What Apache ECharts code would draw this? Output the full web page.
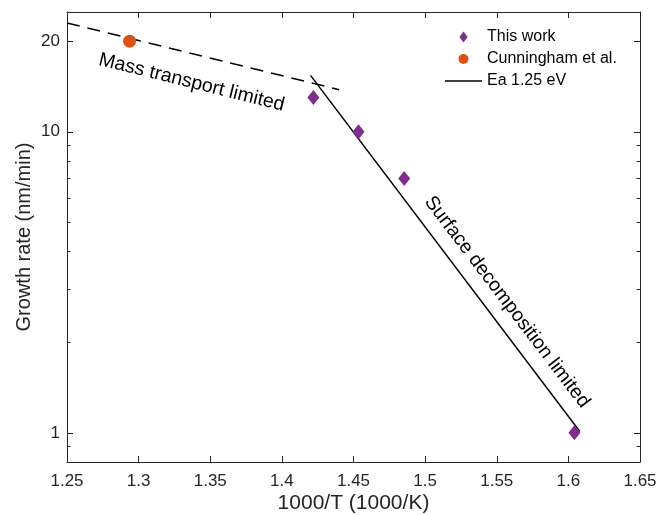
<!DOCTYPE html>
<html>
<head>
<meta charset="utf-8">
<script src="https://cdn.jsdelivr.net/npm/echarts@6/dist/echarts.min.js"></script>
<style>
  html, body { margin: 0; padding: 0; background: #fff; }
  #chart { width: 668px; height: 515px; }
</style>
</head>
<body>
<div id="chart"></div>
<script>
// data
const thisWork = [[1.422, 13.0], [1.4535, 10.0], [1.4854, 7.0], [1.6042, 1.0]];
const cunningham = [[1.2937, 20.0]];
const eaLine = [[1.42, 15.4], [1.608, 1.01]];      // Ea 1.25 eV fit
const massLine = [[1.25, 23.0], [1.44, 13.8]];     // dashed, mass transport
const yMajorTicks = [1, 10, 20];
const yMinorTicks = [0.9, 2, 3, 4, 5, 6, 7, 8, 9];

const font = "'Liberation Sans', Arial, Helvetica, sans-serif";
const axisColor = "#262626";

// legend icons, padded to the full 37px width so they keep their shape
const iconDiamond = "path://M0,6L0,6M37,6L37,6M18.5,0L23,6L18.5,12L14,6Z";
const iconCircle = "path://M0,6L0,6M37,6L37,6M23.5,6A5,5,0,1,1,13.5,6A5,5,0,1,1,23.5,6Z";
const iconLine = "path://M0,0L37,0L37,1.5L0,1.5Z";

const chart = echarts.init(document.getElementById("chart"), null, { renderer: "canvas" });

function yAxisDef(pos, ticks, len, labels, showLine) {
  return {
    type: "log",
    logBase: 10,
    position: pos,
    min: 0.8,
    max: 25,
    axisLine: { show: showLine, lineStyle: { color: axisColor, width: 1 } },
    axisTick: { show: true, inside: true, length: len, customValues: ticks, lineStyle: { color: axisColor } },
    axisLabel: labels
      ? { show: true, customValues: ticks, color: axisColor, fontSize: 17, fontFamily: font, margin: 7 }
      : { show: false },
    splitLine: { show: false },
    minorTick: { show: false },
  };
}

const yLeft = yAxisDef("left", yMajorTicks, 6, true, true);
yLeft.name = "Growth rate (nm/min)";
yLeft.nameLocation = "middle";
yLeft.nameGap = 33;
yLeft.nameMoveOverlap = false;
yLeft.nameTextStyle = { color: axisColor, fontSize: 20, fontFamily: font };

const option = {
  animation: false,
  grid: { left: 67, right: 28, top: 12, bottom: 53, containLabel: false, outerBoundsMode: "none" },
  legend: {
    orient: "vertical",
    left: 445,
    top: 29,
    padding: 0,
    itemWidth: 37,
    itemHeight: 11,
    itemGap: 6,
    textStyle: { color: "#000", fontSize: 16, fontFamily: font },
    data: [
      { name: "This work", icon: iconDiamond },
      { name: "Cunningham et al.", icon: iconCircle },
      { name: "Ea 1.25 eV", icon: iconLine },
    ],
  },
  xAxis: [
    {
      type: "value",
      position: "bottom",
      min: 1.25,
      max: 1.65,
      interval: 0.05,
      name: "1000/T (1000/K)",
      nameLocation: "middle",
      nameGap: 31,
      nameMoveOverlap: false,
      nameTextStyle: { color: axisColor, fontSize: 21, fontFamily: font },
      axisLine: { lineStyle: { color: axisColor, width: 1 } },
      axisTick: { inside: true, length: 6, lineStyle: { color: axisColor } },
      axisLabel: { color: axisColor, fontSize: 17, fontFamily: font, margin: 11 },
      splitLine: { show: false },
    },
    {
      type: "value",
      position: "top",
      min: 1.25,
      max: 1.65,
      interval: 0.05,
      axisLine: { lineStyle: { color: axisColor, width: 1 } },
      axisTick: { inside: true, length: 6, lineStyle: { color: axisColor } },
      axisLabel: { show: false },
      splitLine: { show: false },
    },
  ],
  yAxis: [
    yLeft,
    yAxisDef("left", yMinorTicks, 3.5, false, false),
    yAxisDef("right", yMajorTicks, 6, false, true),
    yAxisDef("right", yMinorTicks, 3.5, false, false),
  ],
  series: [
    {
      name: "Mass transport",
      type: "line",
      data: massLine,
      symbol: "none",
      lineStyle: { color: "#000", width: 1.5, type: [13, 8] },
      z: 2,
    },
    {
      name: "Ea 1.25 eV",
      type: "line",
      data: eaLine,
      symbol: "none",
      itemStyle: { color: "#000" },
      lineStyle: { color: "#000", width: 1.5 },
      z: 2,
    },
    {
      name: "This work",
      type: "scatter",
      data: thisWork,
      symbol: "diamond",
      symbolSize: [12, 15],
      itemStyle: { color: "#7E2F8E", opacity: 1 },
      z: 3,
    },
    {
      name: "Cunningham et al.",
      type: "scatter",
      data: cunningham,
      symbol: "circle",
      symbolSize: 13,
      itemStyle: { color: "#D95319", opacity: 1 },
      z: 3,
    },
  ],
  graphic: [
    {
      type: "text",
      x: 191.5,
      y: 82.5,
      rotation: -14 * Math.PI / 180,
      style: {
        text: "Mass transport limited",
        fill: "#000",
        font: "19.5px " + font,
        align: "center",
        verticalAlign: "middle",
      },
    },
    {
      type: "text",
      x: 507,
      y: 302,
      rotation: -52.75 * Math.PI / 180,
      style: {
        text: "Surface decomposition limited",
        fill: "#000",
        font: "19.5px " + font,
        align: "center",
        verticalAlign: "middle",
      },
    },
  ],
};

chart.setOption(option);
</script>
</body>
</html>
